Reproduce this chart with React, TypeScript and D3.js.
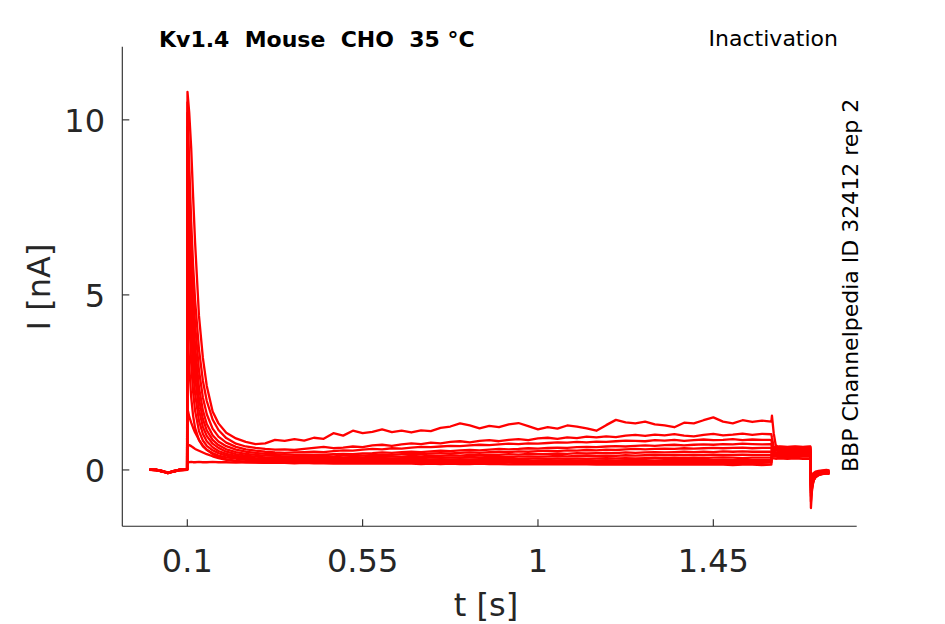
import React from 'react';
import * as d3 from 'd3';

// time samples (s)
const tPre = [0.003, 0.02, 0.035, 0.05, 0.065, 0.08, 0.0995];
const tDecay = [0.1005, 0.102, 0.105, 0.11, 0.115, 0.12, 0.13, 0.14, 0.15, 0.165, 0.18, 0.2, 0.225, 0.25];
const tBody = [
  0.275, 0.3, 0.325, 0.35, 0.375, 0.4, 0.425, 0.45, 0.475,
  0.5, 0.525, 0.55, 0.575, 0.6, 0.625, 0.65, 0.675, 0.7,
  0.725, 0.75, 0.775, 0.8, 0.825, 0.85, 0.875, 0.9, 0.925,
  0.95, 0.975, 1.0, 1.025, 1.05, 1.075, 1.1, 1.125, 1.15,
  1.175, 1.2, 1.225, 1.25, 1.275, 1.3, 1.325, 1.35, 1.375,
  1.4, 1.425, 1.45, 1.475, 1.5, 1.525, 1.55, 1.575, 1.599,
];
const tTest = [1.6005, 1.605, 1.61, 1.62, 1.64, 1.66, 1.68, 1.699];
const tTail = [1.7005, 1.703, 1.707, 1.712, 1.72, 1.73, 1.74, 1.748];

// currents (nA)
const trace1 = [
  0.01, 0.0, -0.03, -0.09, -0.05, -0.01, 0.0,
  10.8, 10.6, 10.2, 9.2, 7.8, 6.5, 4.4, 3.2, 2.4, 1.67, 1.33, 1.06, 0.9, 0.8,
  0.74, 0.76, 0.86, 0.83, 0.88, 0.84, 0.92, 0.89, 1.05,
  0.98, 1.12, 1.05, 1.09, 1.16, 1.08, 1.12, 1.07, 1.13,
  1.11, 1.2, 1.24, 1.33, 1.27, 1.19, 1.26, 1.22, 1.3,
  1.34, 1.25, 1.16, 1.22, 1.18, 1.27, 1.24, 1.19, 1.12,
  1.28, 1.43, 1.36, 1.33, 1.38, 1.3, 1.27, 1.22, 1.35,
  1.33, 1.42, 1.5, 1.38, 1.33, 1.42, 1.37, 1.41, 1.38,
  1.55, 1.05, 0.72, 0.6, 0.61, 0.59, 0.6, 0.6,
  -1.09, -0.62, -0.3, -0.15, -0.08, -0.05, -0.03, -0.04,
];
const trace2 = [
  0.0, 0.01, -0.04, -0.08, -0.04, 0.0, 0.01,
  10.5, 9.85, 8.69, 7.09, 5.83, 4.85, 3.44, 2.55, 1.97, 1.44, 1.14, 0.91, 0.75, 0.67,
  0.63, 0.6, 0.58, 0.59, 0.57, 0.6, 0.63, 0.66, 0.62,
  0.64, 0.67, 0.65, 0.7, 0.72, 0.69, 0.73, 0.76, 0.74,
  0.78, 0.76, 0.8, 0.82, 0.79, 0.83, 0.85, 0.82, 0.86,
  0.88, 0.85, 0.9, 0.92, 0.89, 0.93, 0.91, 0.95, 0.93,
  0.96, 0.94, 0.98, 1.0, 0.97, 1.01, 0.99, 1.02, 0.98,
  0.96, 1.0, 1.03, 0.99, 1.01, 1.04, 1.0, 1.03, 1.02,
  0.92, 0.66, 0.59, 0.57, 0.58, 0.57, 0.58, 0.57,
  -0.9, -0.55, -0.3, -0.17, -0.1, -0.07, -0.05, -0.05,
];
const trace3 = [
  0.01, -0.01, -0.03, -0.07, -0.05, 0.01, 0.0,
  10.2, 9.45, 8.15, 6.42, 5.12, 4.15, 2.84, 2.07, 1.59, 1.18, 0.95, 0.78, 0.66, 0.59,
  0.55, 0.52, 0.5, 0.49, 0.5, 0.51, 0.52, 0.51, 0.54,
  0.56, 0.55, 0.58, 0.6, 0.59, 0.62, 0.61, 0.64, 0.66,
  0.65, 0.67, 0.69, 0.68, 0.7, 0.72, 0.71, 0.73, 0.75,
  0.74, 0.76, 0.75, 0.77, 0.79, 0.78, 0.8, 0.79, 0.81,
  0.8, 0.82, 0.84, 0.83, 0.82, 0.85, 0.84, 0.86, 0.83,
  0.85, 0.87, 0.85, 0.86, 0.88, 0.85, 0.87, 0.86, 0.86,
  0.74, 0.58, 0.55, 0.54, 0.55, 0.54, 0.55, 0.54,
  -0.75, -0.5, -0.32, -0.2, -0.12, -0.09, -0.06, -0.07,
];
const trace4 = [
  0.0, 0.0, -0.05, -0.08, -0.03, 0.0, 0.01,
  9.8, 8.98, 7.57, 5.78, 4.48, 3.54, 2.36, 1.7, 1.31, 0.99, 0.81, 0.68, 0.58, 0.52,
  0.49, 0.46, 0.45, 0.44, 0.43, 0.44, 0.43, 0.44, 0.45,
  0.46, 0.45, 0.47, 0.48, 0.5, 0.49, 0.51, 0.52, 0.51,
  0.53, 0.55, 0.54, 0.56, 0.57, 0.56, 0.58, 0.6, 0.59,
  0.6, 0.62, 0.61, 0.63, 0.64, 0.63, 0.65, 0.66, 0.65,
  0.67, 0.68, 0.67, 0.69, 0.7, 0.69, 0.71, 0.72, 0.7,
  0.72, 0.73, 0.72, 0.74, 0.73, 0.75, 0.74, 0.73, 0.74,
  0.6, 0.52, 0.51, 0.5, 0.51, 0.5, 0.51, 0.5,
  -0.65, -0.45, -0.3, -0.22, -0.15, -0.1, -0.08, -0.08,
];
const trace5 = [
  0.01, 0.0, -0.03, -0.09, -0.04, -0.01, 0.0,
  9.3, 8.46, 7.03, 5.25, 3.99, 3.11, 2.03, 1.45, 1.13, 0.86, 0.71, 0.59, 0.51, 0.46,
  0.43, 0.41, 0.4, 0.39, 0.38, 0.39, 0.39, 0.4, 0.39,
  0.41, 0.42, 0.41, 0.43, 0.44, 0.43, 0.45, 0.46, 0.45,
  0.47, 0.48, 0.47, 0.49, 0.5, 0.49, 0.51, 0.52, 0.51,
  0.53, 0.52, 0.54, 0.55, 0.54, 0.56, 0.55, 0.57, 0.56,
  0.58, 0.57, 0.59, 0.6, 0.59, 0.6, 0.61, 0.6, 0.62,
  0.61, 0.62, 0.63, 0.62, 0.63, 0.64, 0.62, 0.63, 0.63,
  0.52, 0.48, 0.47, 0.47, 0.48, 0.47, 0.47, 0.48,
  -0.58, -0.42, -0.3, -0.2, -0.13, -0.1, -0.09, -0.1,
];
const trace6 = [
  0.0, 0.01, -0.04, -0.07, -0.05, 0.0, 0.0,
  8.6, 7.76, 6.35, 4.63, 3.47, 2.66, 1.72, 1.23, 0.97, 0.75, 0.63, 0.52, 0.45, 0.41,
  0.38, 0.36, 0.35, 0.35, 0.34, 0.35, 0.34, 0.35, 0.36,
  0.35, 0.37, 0.36, 0.38, 0.37, 0.39, 0.38, 0.4, 0.39,
  0.41, 0.4, 0.42, 0.41, 0.43, 0.42, 0.44, 0.43, 0.45,
  0.44, 0.46, 0.45, 0.46, 0.47, 0.46, 0.48, 0.47, 0.48,
  0.49, 0.48, 0.5, 0.49, 0.5, 0.51, 0.5, 0.51, 0.52,
  0.51, 0.52, 0.51, 0.53, 0.52, 0.53, 0.52, 0.52, 0.52,
  0.47, 0.45, 0.44, 0.44, 0.45, 0.44, 0.45, 0.44,
  -0.5, -0.38, -0.28, -0.2, -0.15, -0.12, -0.1, -0.1,
];
const trace7 = [
  0.01, -0.01, -0.03, -0.08, -0.04, 0.01, 0.01,
  7.6, 6.8, 5.47, 3.89, 2.86, 2.18, 1.4, 1.03, 0.82, 0.65, 0.54, 0.46, 0.4, 0.37,
  0.34, 0.33, 0.32, 0.31, 0.31, 0.31, 0.3, 0.32, 0.31,
  0.32, 0.33, 0.32, 0.33, 0.34, 0.33, 0.34, 0.35, 0.34,
  0.35, 0.36, 0.35, 0.36, 0.37, 0.36, 0.37, 0.38, 0.37,
  0.38, 0.39, 0.38, 0.39, 0.4, 0.39, 0.4, 0.41, 0.4,
  0.41, 0.4, 0.42, 0.41, 0.42, 0.43, 0.42, 0.43, 0.42,
  0.43, 0.42, 0.44, 0.43, 0.43, 0.44, 0.43, 0.43, 0.43,
  0.43, 0.42, 0.41, 0.42, 0.41, 0.42, 0.41, 0.41,
  -0.45, -0.33, -0.25, -0.18, -0.14, -0.11, -0.1, -0.11,
];
const trace8 = [
  0.0, 0.0, -0.04, -0.09, -0.03, 0.0, 0.0,
  6.2, 5.49, 4.36, 3.04, 2.22, 1.69, 1.11, 0.84, 0.69, 0.56, 0.48, 0.41, 0.36, 0.33,
  0.3, 0.29, 0.28, 0.28, 0.28, 0.27, 0.28, 0.27, 0.28,
  0.29, 0.28, 0.29, 0.28, 0.29, 0.3, 0.29, 0.3, 0.29,
  0.3, 0.31, 0.3, 0.31, 0.3, 0.31, 0.32, 0.31, 0.32,
  0.31, 0.32, 0.33, 0.32, 0.33, 0.32, 0.33, 0.32, 0.33,
  0.34, 0.33, 0.34, 0.33, 0.34, 0.35, 0.34, 0.35, 0.34,
  0.35, 0.34, 0.35, 0.36, 0.35, 0.34, 0.35, 0.35, 0.35,
  0.39, 0.38, 0.38, 0.37, 0.38, 0.37, 0.38, 0.38,
  -0.4, -0.3, -0.22, -0.16, -0.12, -0.1, -0.09, -0.1,
];
const trace9 = [
  0.01, 0.0, -0.05, -0.07, -0.04, -0.01, 0.01,
  4.3, 3.79, 2.98, 2.08, 1.54, 1.2, 0.85, 0.67, 0.57, 0.48, 0.41, 0.36, 0.32, 0.29,
  0.27, 0.26, 0.25, 0.25, 0.26, 0.25, 0.24, 0.25, 0.26,
  0.25, 0.26, 0.25, 0.26, 0.25, 0.26, 0.27, 0.26, 0.25,
  0.26, 0.27, 0.26, 0.27, 0.26, 0.27, 0.26, 0.27, 0.28,
  0.27, 0.26, 0.27, 0.28, 0.27, 0.28, 0.27, 0.28, 0.27,
  0.28, 0.27, 0.28, 0.29, 0.28, 0.27, 0.28, 0.29, 0.28,
  0.29, 0.28, 0.28, 0.29, 0.28, 0.29, 0.28, 0.28, 0.28,
  0.34, 0.33, 0.32, 0.33, 0.32, 0.33, 0.32, 0.32,
  -0.35, -0.27, -0.2, -0.14, -0.1, -0.08, -0.07, -0.08,
];
const trace10 = [
  0.0, 0.01, -0.03, -0.08, -0.05, 0.0, 0.0,
  1.5, 1.68, 1.52, 1.35, 1.2, 1.07, 0.86, 0.7, 0.58, 0.45, 0.37, 0.31, 0.26, 0.24,
  0.23, 0.22, 0.23, 0.22, 0.23, 0.22, 0.22, 0.23, 0.22,
  0.22, 0.23, 0.22, 0.23, 0.22, 0.23, 0.22, 0.22, 0.23,
  0.22, 0.23, 0.22, 0.23, 0.23, 0.22, 0.23, 0.22, 0.23,
  0.23, 0.22, 0.23, 0.22, 0.23, 0.23, 0.22, 0.23, 0.23,
  0.22, 0.23, 0.23, 0.22, 0.23, 0.22, 0.23, 0.23, 0.22,
  0.23, 0.22, 0.23, 0.23, 0.22, 0.23, 0.23, 0.22, 0.23,
  0.5, 0.58, 0.61, 0.62, 0.63, 0.62, 0.63, 0.63,
  -0.3, -0.22, -0.15, -0.1, -0.07, -0.05, -0.04, -0.05,
];
const trace11 = [
  0.01, 0.0, -0.04, -0.09, -0.04, 0.01, 0.0,
  0.55, 0.68, 0.71, 0.68, 0.64, 0.6, 0.55, 0.5, 0.45, 0.39, 0.34, 0.29, 0.25, 0.22,
  0.21, 0.2, 0.21, 0.2, 0.2, 0.21, 0.2, 0.21, 0.2,
  0.2, 0.21, 0.2, 0.2, 0.21, 0.2, 0.21, 0.2, 0.2,
  0.21, 0.2, 0.21, 0.2, 0.2, 0.21, 0.2, 0.2, 0.21,
  0.2, 0.21, 0.2, 0.21, 0.2, 0.2, 0.21, 0.2, 0.21,
  0.2, 0.2, 0.21, 0.2, 0.21, 0.2, 0.2, 0.21, 0.2,
  0.21, 0.2, 0.2, 0.21, 0.2, 0.21, 0.2, 0.2, 0.21,
  0.56, 0.63, 0.65, 0.66, 0.65, 0.66, 0.65, 0.66,
  -0.25, -0.18, -0.12, -0.08, -0.05, -0.03, -0.02, -0.03,
];
const trace12 = [
  0.0, -0.01, -0.03, -0.08, -0.03, 0.0, 0.01,
  0.22, 0.23, 0.22, 0.23, 0.22, 0.22, 0.23, 0.22, 0.22, 0.23, 0.22, 0.22, 0.21, 0.22,
  0.22, 0.21, 0.2, 0.2, 0.19, 0.2, 0.19, 0.19, 0.18,
  0.19, 0.18, 0.19, 0.18, 0.18, 0.19, 0.18, 0.18, 0.17,
  0.18, 0.17, 0.18, 0.17, 0.17, 0.18, 0.17, 0.17, 0.16,
  0.17, 0.16, 0.17, 0.16, 0.16, 0.17, 0.16, 0.16, 0.15,
  0.16, 0.15, 0.16, 0.15, 0.16, 0.15, 0.15, 0.16, 0.15,
  0.15, 0.16, 0.15, 0.15, 0.14, 0.15, 0.15, 0.14, 0.15,
  0.58, 0.64, 0.66, 0.67, 0.66, 0.67, 0.66, 0.67,
  -0.2, -0.14, -0.09, -0.05, -0.03, -0.01, 0.0, -0.01,
];

const xTicks = [0.1, 0.55, 1, 1.45];
const xTickLabels = ['0.1', '0.55', '1', '1.45'];
const yTicks = [0, 5, 10];
const yTickLabels = ['0', '5', '10'];

const titleText = 'Kv1.4  Mouse  CHO  35 °C';
const protocolText = 'Inactivation';
const sideText = 'BBP Channelpedia ID 32412 rep 2';

export default function App() {
  const W = 945;
  const H = 624;
  const left = 122.3, right = 856.7, top = 46.7, bottom = 526.3;
  const timeS = [...tPre, ...tDecay, ...tBody, ...tTest, ...tTail];
  const traces = [trace1, trace2, trace3, trace4, trace5, trace6, trace7, trace8, trace9, trace10, trace11, trace12];
  const x = d3.scaleLinear().domain([-0.0668, 1.818]).range([left, right]);
  const y = d3.scaleLinear().domain([-1.61, 12.09]).range([bottom, top]);
  const line = d3
    .line<number>()
    .defined((_, i) => i < timeS.length)
    .x((_, i) => x(timeS[i]))
    .y((v) => y(v));
  const axisColor = '#262626';
  const font = 'DejaVu Sans, sans-serif';

  return (
    <svg
      width={W}
      height={H}
      viewBox={`0 0 ${W} ${H}`}
      style={{ position: 'absolute', left: 0, top: 0, background: '#fff' }}
    >
      <rect x={0} y={0} width={W} height={H} fill="#fff" />
      <g>
        {traces.map((tr, k) => (
          <path
            key={k}
            d={line(tr) || ''}
            fill="none"
            stroke="#ff0000"
            strokeWidth={2.3}
            strokeLinejoin="round"
          />
        ))}
      </g>
      {/* axes */}
      <line x1={left} x2={left} y1={top} y2={bottom} stroke={axisColor} strokeWidth={1.1} />
      <line x1={left} x2={right} y1={bottom} y2={bottom} stroke={axisColor} strokeWidth={1.1} />
      {xTicks.map((t, i) => (
        <g key={`xt${i}`}>
          <line x1={x(t)} x2={x(t)} y1={bottom} y2={bottom - 7} stroke={axisColor} strokeWidth={1.1} />
          <text
            x={x(t)}
            y={571.5}
            textAnchor="middle"
            fontFamily={font}
            fontSize={32}
            fill={axisColor}
          >
            {xTickLabels[i]}
          </text>
        </g>
      ))}
      {yTicks.map((v, i) => (
        <g key={`yt${i}`}>
          <line x1={left} x2={left + 7} y1={y(v)} y2={y(v)} stroke={axisColor} strokeWidth={1.1} />
          <text
            x={105}
            y={y(v) + 11.7}
            textAnchor="end"
            fontFamily={font}
            fontSize={32}
            fill={axisColor}
          >
            {yTickLabels[i]}
          </text>
        </g>
      ))}
      <text
        x={486}
        y={616}
        textAnchor="middle"
        fontFamily={font}
        fontSize={32}
        fill={axisColor}
      >
        t [s]
      </text>
      <text
        transform="translate(49.5,287) rotate(-90)"
        textAnchor="middle"
        fontFamily={font}
        fontSize={32}
        fill={axisColor}
      >
        I [nA]
      </text>
      <text
        x={159}
        y={47}
        fontFamily={font}
        fontSize={22}
        fontWeight="bold"
        fill="#000"
        style={{ whiteSpace: 'pre' }}
        xmlSpace="preserve"
      >
        {titleText}
      </text>
      <text
        x={838}
        y={46}
        textAnchor="end"
        fontFamily={font}
        fontSize={22}
        fill="#000"
      >
        {protocolText}
      </text>
      <text
        transform="translate(857.5,472) rotate(-90)"
        textAnchor="start"
        fontFamily={font}
        fontSize={22}
        fill="#000"
      >
        {sideText}
      </text>
    </svg>
  );
}
